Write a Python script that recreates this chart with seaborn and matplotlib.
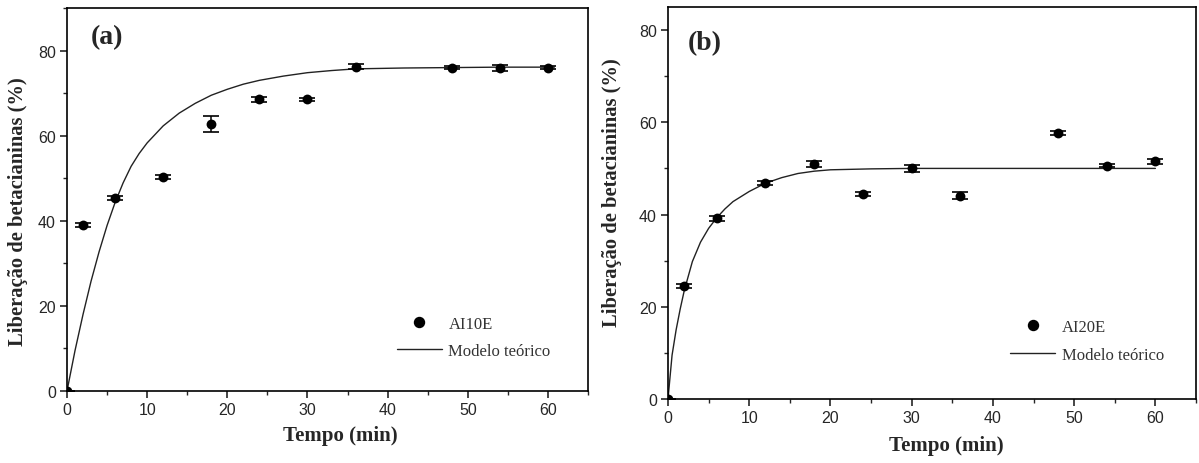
import numpy as np
import pandas as pd
import matplotlib
matplotlib.use("Agg")
import matplotlib.pyplot as plt
import seaborn as sns
from matplotlib.ticker import MultipleLocator
from matplotlib.lines import Line2D

# ---- data ----
tempo = [0, 2, 6, 12, 18, 24, 30, 36, 48, 54, 60]

ai10e = [0, 39.0, 45.4, 50.2, 62.7, 68.5, 68.5, 76.2, 76.0, 75.8, 76.0]
ai10e_err = [0, 0.4, 0.5, 0.5, 1.9, 0.5, 0.4, 0.6, 0.4, 0.7, 0.4]

ai20e = [0, 24.5, 39.2, 46.8, 50.9, 44.5, 50.0, 44.1, 57.7, 50.6, 51.5]
ai20e_err = [0, 0.5, 0.5, 0.4, 0.6, 0.4, 0.8, 0.7, 0.4, 0.4, 0.6]

modelo_a_t = [0, 1, 2, 3, 4, 5, 6, 7, 8, 9, 10, 12, 14, 16, 18, 20, 22, 24, 27,
              30, 33, 36, 42, 48, 54, 60.8]
modelo_a_y = [0, 9.5, 18.0, 25.8, 32.7, 38.9, 44.3, 48.9, 52.8, 55.8, 58.3, 62.3,
              65.3, 67.6, 69.5, 70.9, 72.1, 73.0, 74.0, 74.8, 75.3, 75.7, 75.9,
              76.0, 76.1, 76.1]

modelo_b_t = [0, 0.5, 1, 1.5, 2, 3, 4, 5, 6, 7, 8, 10, 12, 14, 16, 18, 20, 25,
              30, 40, 50, 60]
modelo_b_y = [0, 9.5, 15.0, 19.5, 23.5, 29.8, 34.0, 37.0, 39.3, 41.2, 42.8, 45.0,
              46.8, 48.0, 48.9, 49.4, 49.7, 49.9, 50.0, 50.0, 50.0, 50.0]

panels = [
    dict(tag="(a)", name="AI10E", y=ai10e, err=ai10e_err, mt=modelo_a_t,
         my=modelo_a_y, ylim=90, rect=[67/1199, 1-392/464, 521/1199, 383/464],
         leg=(0.633, 0.083), tagpos=(0.046, 0.958),
         xlab=(0.524, -0.09), ylab=(-0.074, 0.47)),
    dict(tag="(b)", name="AI20E", y=ai20e, err=ai20e_err, mt=modelo_b_t,
         my=modelo_b_y, ylim=85, rect=[668/1199, 1-400/464, 528/1199, 392/464],
         leg=(0.648, 0.093), tagpos=(0.038, 0.94),
         xlab=(0.527, -0.093), ylab=(-0.087, 0.53)),
]

sns.set_style("ticks")
plt.rcParams["font.family"] = ["Liberation Sans", "DejaVu Sans"]

fig = plt.figure(figsize=(11.99, 4.64), dpi=100)

serif = ["Liberation Serif", "DejaVu Serif"]

for p in panels:
    ax = fig.add_axes(p["rect"])
    df = pd.DataFrame({"t": tempo, "y": p["y"], "e": p["err"]})
    dm = pd.DataFrame({"t": p["mt"], "y": p["my"]})
    sns.lineplot(data=dm, x="t", y="y", ax=ax, color="#222222", lw=1.0,
                 sort=False, zorder=2)
    ax.errorbar(df["t"], df["y"], yerr=df["e"], fmt="none", ecolor="black",
                elinewidth=1.1, capsize=5.6, capthick=1.2, zorder=3)
    sns.scatterplot(data=df, x="t", y="y", ax=ax, color="black", s=50,
                    edgecolor="black", linewidth=0, zorder=4)
    ax.set_xlim(0, 65)
    ax.set_ylim(0, p["ylim"])
    ax.xaxis.set_major_locator(MultipleLocator(10))
    ax.xaxis.set_minor_locator(MultipleLocator(5))
    ax.yaxis.set_major_locator(MultipleLocator(20))
    ax.yaxis.set_minor_locator(MultipleLocator(10))
    ax.tick_params(which="major", direction="out", length=5, width=1.2,
                   labelsize=11.5, pad=3)
    ax.tick_params(which="minor", direction="out", length=3, width=1.0)
    for s in ax.spines.values():
        s.set_linewidth(1.2)
        s.set_color("black")
    ax.set_xlabel("Tempo (min)", fontfamily=serif, fontweight="bold",
                  fontsize=15)
    ax.set_ylabel("Liberação de betacianinas (%)", fontfamily=serif,
                  fontweight="bold", fontsize=14.8)
    ax.xaxis.set_label_coords(*p["xlab"])
    ax.yaxis.set_label_coords(*p["ylab"])
    ax.text(p["tagpos"][0], p["tagpos"][1], p["tag"], transform=ax.transAxes,
            fontfamily=serif, fontweight="bold", fontsize=20, va="top")
    handles = [
        Line2D([], [], ls="none", marker="o", color="black", markersize=7.2),
        Line2D([], [], color="#222222", lw=1.0),
    ]
    leg = ax.legend(handles, [p["name"], "Modelo teórico"],
                    loc="lower left", bbox_to_anchor=p["leg"], frameon=False,
                    borderpad=0, borderaxespad=0,
                    prop={"family": serif, "size": 12}, handlelength=2.7,
                    handletextpad=0.4, labelspacing=0.7)
    for txt in leg.get_texts():
        txt.set_color("#333333")

fig.savefig("out.png", dpi=100)
